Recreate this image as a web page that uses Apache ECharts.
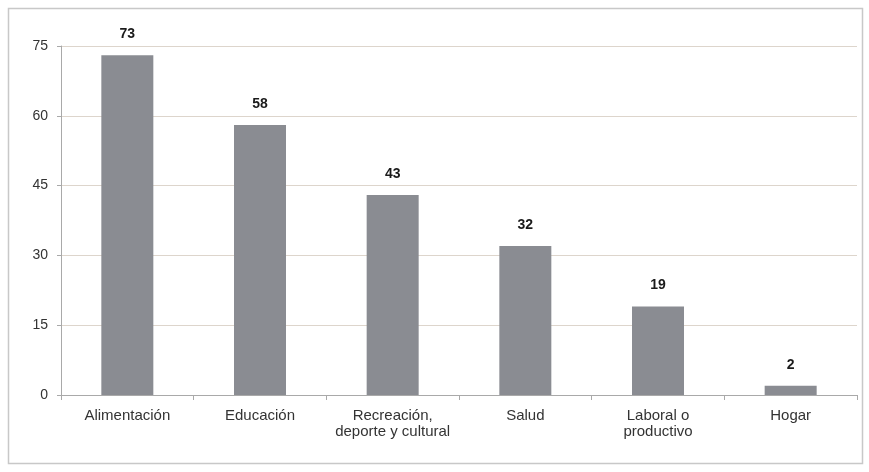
<!DOCTYPE html>
<html><head><meta charset="utf-8">
<script src="https://cdn.jsdelivr.net/npm/echarts@6/dist/echarts.min.js"></script>
<style>html,body{margin:0;padding:0;background:#fff}#c{width:869px;height:472px}</style>
</head><body><div id="c"></div>
<script>
var categories = ['Alimentación', 'Educación', 'Recreación,\ndeporte y cultural', 'Salud', 'Laboral o\nproductivo', 'Hogar'];
var values = [73, 58, 43, 32, 19, 2];
var yTicks = [0, 15, 30, 45, 60, 75];

var chart = echarts.init(document.getElementById('c'));
chart.setOption({
  animation: false,
  backgroundColor: '#fff',
  graphic: [{type: 'rect', shape: {x: 8.5, y: 8.5, width: 854, height: 455}, style: {fill: 'none', stroke: '#c8c8c8', lineWidth: 1.5}, z: -1}],
  grid: {left: 61, right: 12, top: 46, bottom: 77},
  xAxis: {
    type: 'category', data: categories,
    axisLine: {lineStyle: {color: '#a9a9a9'}},
    axisTick: {show: true, interval: 0, alignWithLabel: false, length: 5, lineStyle: {color: '#a9a9a9'}},
    axisLabel: {interval: 0, hideOverlap: false, color: '#333', fontFamily: 'Liberation Sans, Arial', fontSize: 15, margin: 13, lineHeight: 16}
  },
  yAxis: {
    type: 'value', min: yTicks[0], max: yTicks[yTicks.length - 1], interval: 15,
    axisLine: {show: true, lineStyle: {color: '#a9a9a9'}},
    axisTick: {show: true, length: 4, lineStyle: {color: '#a9a9a9'}},
    axisLabel: {color: '#333', fontFamily: 'Liberation Sans, Arial', fontSize: 14, margin: 13},
    splitLine: {lineStyle: {color: '#ddd5cc'}}
  },
  series: [{
    type: 'bar', data: values, barWidth: 52,
    itemStyle: {color: '#8a8c92'},
    label: {show: true, position: 'top', distance: 14, color: '#1a1a1a', fontWeight: 'bold', fontFamily: 'Liberation Sans, Arial', fontSize: 14}
  }]
});
</script></body></html>
